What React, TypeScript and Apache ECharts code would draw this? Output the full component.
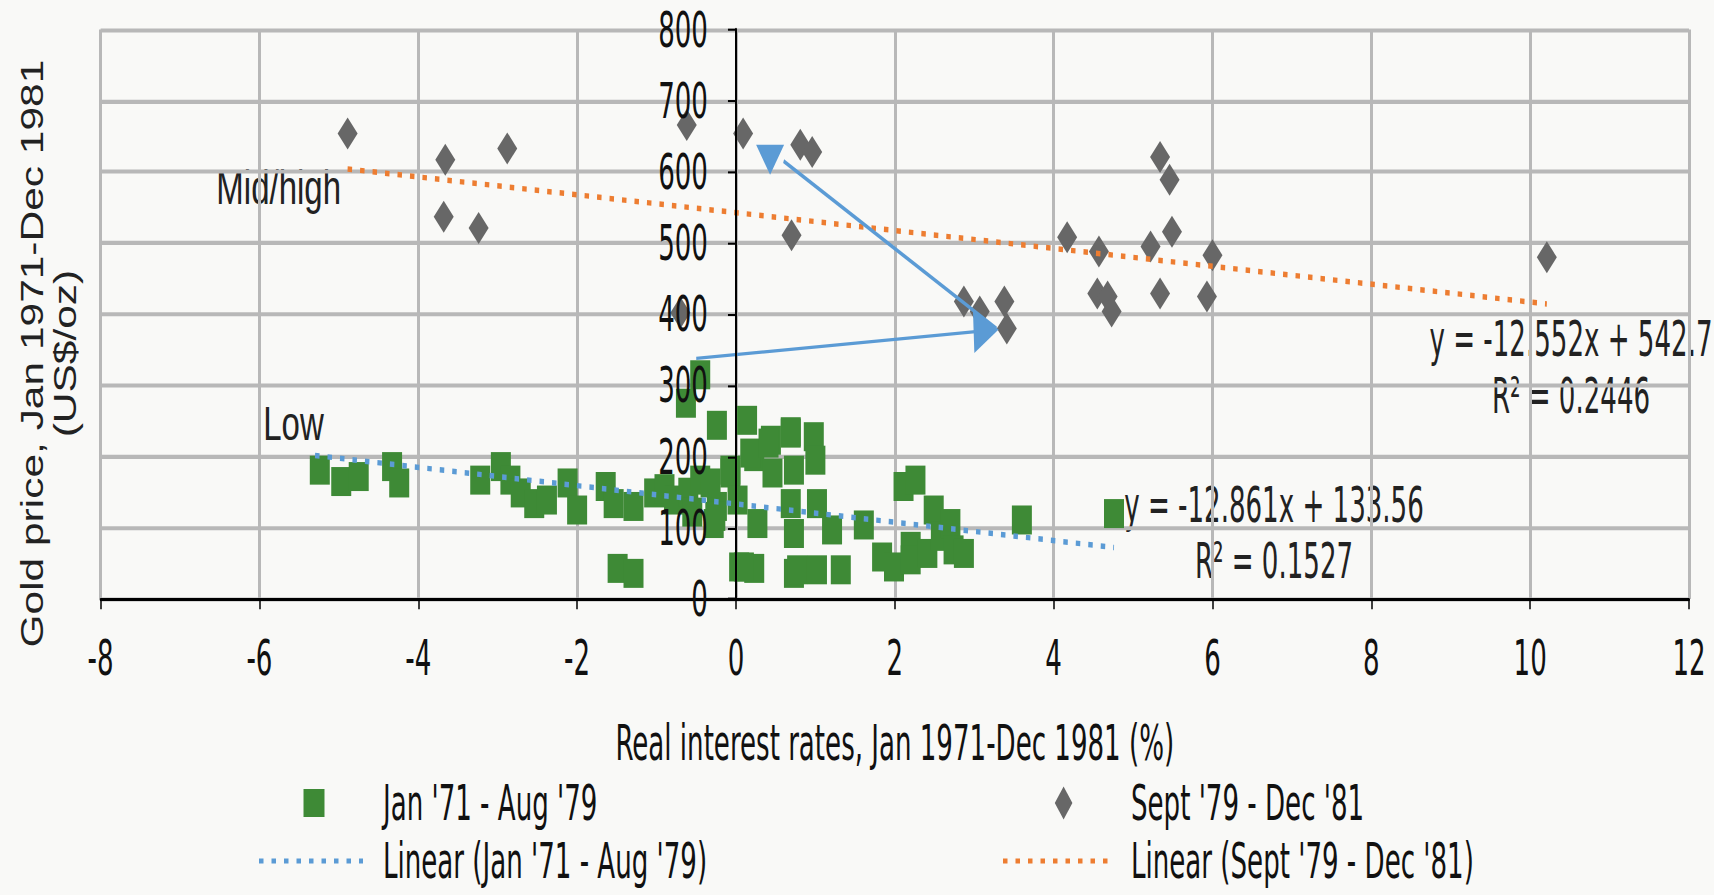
import React, { useEffect, useRef } from "react";
import * as echarts from "echarts";

// ---------- data ----------
const xMin = -8;
const xMax = 12;
const xStep = 2;
const yMin = 0;
const yMax = 800;
const yStep = 100;

const xTitle = "Real interest rates, Jan 1971-Dec 1981 (%)";
const yTitle = "Gold price, Jan 1971-Dec 1981\n(US$/oz)";

const earlyName = "Jan '71 - Aug '79";
const lateName = "Sept '79 - Dec '81";
const earlyTrendName = "Linear (Jan '71 - Aug '79)";
const lateTrendName = "Linear (Sept '79 - Dec '81)";

const regimeLabels = ["Mid/high", "Low"];

// Jan '71 - Aug '79 : [real rate %, gold price]
const earlyPoints: [number, number][] = [
  [-5.24, 181], [-4.97, 165], [-4.75, 172], [-4.33, 186], [-4.24, 163],
  [-3.22, 167], [-2.96, 186], [-2.84, 167], [-2.71, 149], [-2.54, 134], [-2.38, 139],
  [-2.12, 163], [-2.0, 125], [-1.64, 158], [-1.54, 134], [-1.29, 130], [-1.03, 149],
  [-0.9, 155], [-0.78, 139], [-0.6, 150], [-0.55, 122], [-1.49, 43], [-1.29, 36],
  [-0.63, 275], [-0.45, 315], [-0.24, 244], [0.14, 251], [-0.45, 167], [-0.24, 130],
  [-0.28, 106], [-0.07, 181], [0.23, 200], [0.44, 223], [0.69, 233], [0.27, 106],
  [0.04, 45], [0.23, 43], [0.73, 92], [0.73, 36], [-0.32, 163], [-0.26, 116],
  [-0.07, 177], [0.02, 139], [0.18, 205], [0.41, 219], [0.46, 177], [0.69, 235],
  [0.73, 181], [0.69, 134], [0.98, 228], [1.0, 195], [1.02, 134], [1.21, 97],
  [0.1, 45], [0.77, 41], [1.02, 41], [1.32, 41], [1.61, 104], [1.84, 59], [1.99, 45],
  [2.11, 158], [2.26, 167], [2.2, 74], [2.2, 55], [2.41, 64], [2.49, 125], [2.58, 88],
  [2.7, 106], [2.74, 69], [2.87, 64], [3.6, 111], [4.76, 120],
];

// Sept '79 - Dec '81
const latePoints: [number, number][] = [
  [-4.89, 654], [-3.66, 617], [-2.88, 633], [-3.68, 537], [-3.24, 521],
  [-0.62, 666], [0.09, 654], [0.81, 638], [0.96, 628], [0.7, 511], [-0.7, 402],
  [2.87, 418], [3.07, 404], [3.38, 418], [3.41, 380], [4.17, 508], [4.57, 488],
  [4.55, 429], [4.68, 425], [4.73, 404], [5.22, 495], [5.49, 516], [5.34, 621],
  [5.46, 589], [5.34, 429], [6.0, 483], [5.93, 425], [10.21, 480],
];

// trendline end points (as drawn)
const earlyTrend: [number, number][] = [[-5.3, 201.7], [4.76, 72.3]];
const lateTrend: [number, number][] = [[-4.89, 604.1], [10.21, 414.5]];
const earlyEquation = "y = -12.861x + 133.56\nR² = 0.1527";
const lateEquation = "y = -12.552x + 542.7\nR² = 0.2446";

// annotation arrows
const arrowUpLine: [number, number][] = [[3.28, 380], [0.6, 615]];
const arrowUpHead: [number, number][] = [[0.43, 617]];
const arrowRight: [number, number][] = [[-0.5, 338], [3.15, 377]];

// ---------- layout / styling ----------
const W = 1714;
const H = 527;
const S = 895 / H; // the reference picture is stretched vertically by this factor
const vy = (y: number) => y / S; // picture y -> chart y

const GREEN = "#3E8A36";
const GREY = "#676767";
const BLUE = "#5B9BD5";
const ORANGE = "#ED7D31";
const GRIDC = "#b8b8b8";
const narrow = "'Liberation Sans Narrow', 'Arial Narrow', 'DejaVu Sans Condensed', sans-serif";
const regular = "'Liberation Sans', Arial, sans-serif";
const FS = 29;
const KEEP = 1.45 / S; // vertical compensation for the plain-font labels
const TITLE_STRETCH = 1.37 / S;

const gridLeft = 100.6;
const gridRight = 25;
const gridBox = { left: gridLeft, right: gridRight, top: vy(29.5), bottom: H - vy(599), outerBoundsMode: "none" };
const plotWidth = W - gridLeft - gridRight;
const yAxisOffset = -((0 - xMin) / (xMax - xMin)) * plotWidth;

function buildOption() {
  const legendRow1 = vy(803);
  const legendRow2 = vy(861);
  const legendText = (text: string, x: number, y: number) => ({
    type: "text",
    x,
    y,
    style: { text, fill: "#111", font: `${FS}px ${narrow}`, align: "left", verticalAlign: "middle", lineHeight: FS },
  });
  const legendDots = (x1: number, x2: number, y: number, color: string) => ({
    type: "line",
    shape: { x1, y1: y, x2, y2: y },
    style: { stroke: color, lineWidth: 3, lineDash: [4.5, 8] },
  });

  return {
    animation: false,
    backgroundColor: "#f9f9f7",
    grid: [gridBox, gridBox],
    xAxis: [
      {
        gridIndex: 0, type: "value", min: xMin, max: xMax, interval: xStep,
        axisLine: { show: false }, axisTick: { show: false }, axisLabel: { show: false },
        splitLine: { show: true, lineStyle: { color: GRIDC, width: 3 } },
      },
      {
        gridIndex: 1, type: "value", min: xMin, max: xMax, interval: xStep, z: 10,
        axisLine: { show: true, onZero: false, lineStyle: { color: "#000", width: 1.8 } },
        axisTick: { show: true, length: 6, lineStyle: { color: "#000", width: 1.5 } },
        axisLabel: { margin: 20, fontSize: FS, fontFamily: narrow, color: "#111" },
        splitLine: { show: false },
        name: xTitle, nameLocation: "middle", nameGap: vy(144),
        nameTextStyle: { fontSize: FS, fontFamily: narrow, color: "#111", verticalAlign: "middle" },
      },
    ],
    yAxis: [
      {
        gridIndex: 0, type: "value", min: yMin, max: yMax, interval: yStep,
        axisLine: { show: false }, axisTick: { show: false }, axisLabel: { show: false },
        splitLine: { show: true, lineStyle: { color: GRIDC, width: 2.4 } },
      },
      {
        gridIndex: 1, type: "value", min: yMin, max: yMax, interval: yStep, z: 10,
        position: "left", offset: yAxisOffset,
        axisLine: { show: true, onZero: false, lineStyle: { color: "#000", width: 2 } },
        axisTick: { show: true, length: 8, lineStyle: { color: "#000", width: 1.2 } },
        axisLabel: { margin: 28, fontSize: FS, fontFamily: narrow, color: "#111" },
        splitLine: { show: false },
      },
    ],
    series: [
      {
        name: earlyName, type: "scatter", xAxisIndex: 0, yAxisIndex: 0,
        symbol: "rect", symbolSize: [20, vy(29)],
        itemStyle: { color: GREEN, opacity: 1 },
        data: earlyPoints,
      },
      {
        name: lateName, type: "scatter", xAxisIndex: 0, yAxisIndex: 0,
        symbol: "diamond", symbolSize: [20, vy(32)],
        itemStyle: { color: GREY, opacity: 1 },
        data: latePoints,
      },
      {
        name: earlyTrendName, type: "line", xAxisIndex: 0, yAxisIndex: 0,
        showSymbol: false, symbol: "none",
        lineStyle: { color: BLUE, width: 3.2, type: [4.5, 8], cap: "butt" },
        data: earlyTrend,
      },
      {
        name: lateTrendName, type: "line", xAxisIndex: 0, yAxisIndex: 0,
        showSymbol: false, symbol: "none",
        lineStyle: { color: ORANGE, width: 3.2, type: [4.5, 8], cap: "butt" },
        data: lateTrend,
      },
      {
        type: "lines", coordinateSystem: "cartesian2d", xAxisIndex: 0, yAxisIndex: 0, z: 5,
        symbol: ["none", "none"],
        lineStyle: { color: BLUE, width: 2.4, opacity: 1, curveness: 0 },
        data: [{ coords: arrowUpLine }],
      },
      {
        type: "lines", coordinateSystem: "cartesian2d", xAxisIndex: 0, yAxisIndex: 0, z: 5,
        symbol: ["none", "triangle"], symbolSize: [21, 25],
        lineStyle: { color: BLUE, width: 2, opacity: 1, curveness: 0 },
        data: [{ coords: arrowRight }],
      },
      {
        type: "scatter", xAxisIndex: 0, yAxisIndex: 0, z: 5,
        symbol: "triangle", symbolSize: [28, vy(30)], symbolRotate: 180,
        itemStyle: { color: BLUE, opacity: 1 },
        data: arrowUpHead,
      },
    ],
    graphic: [
      {
        type: "text", x: 49, y: vy(353.6), rotation: Math.PI / 2, scaleX: TITLE_STRETCH,
        style: {
          text: yTitle, fill: "#222", font: `31px ${regular}`,
          align: "center", verticalAlign: "middle", lineHeight: 33,
        },
      },
      {
        type: "text", x: 278.7, y: vy(188), scaleY: KEEP,
        style: { text: regimeLabels[0], fill: "#222", font: `33px ${regular}`, align: "center", verticalAlign: "middle" },
      },
      {
        type: "text", x: 293.5, y: vy(424), scaleY: KEEP,
        style: { text: regimeLabels[1], fill: "#222", font: `33px ${regular}`, align: "center", verticalAlign: "middle" },
      },
      {
        type: "text", x: 1571, y: vy(367),
        style: { text: lateEquation, fill: "#222", font: `${FS}px ${narrow}`, align: "center", verticalAlign: "middle", lineHeight: vy(57) },
      },
      {
        type: "text", x: 1274, y: vy(533),
        style: { text: earlyEquation, fill: "#222", font: `${FS}px ${narrow}`, align: "center", verticalAlign: "middle", lineHeight: vy(56) },
      },
      // legend
      {
        type: "rect",
        shape: { x: 314 - 10.5, y: legendRow1 - vy(14), width: 21, height: vy(28) },
        style: { fill: GREEN },
      },
      legendText(earlyName, 383, legendRow1),
      {
        type: "polygon",
        shape: {
          points: [
            [1063.6, legendRow1 - vy(16.5)], [1072.4, legendRow1], [1063.6, legendRow1 + vy(16.5)], [1054.8, legendRow1],
          ],
        },
        style: { fill: GREY },
      },
      legendText(lateName, 1131, legendRow1),
      legendDots(259, 363, legendRow2, BLUE),
      legendText(earlyTrendName, 383, legendRow2),
      legendDots(1003, 1113, legendRow2, ORANGE),
      legendText(lateTrendName, 1131, legendRow2),
    ],
  };
}

export default function App() {
  const ref = useRef<HTMLDivElement>(null);
  useEffect(() => {
    if (!ref.current) return;
    const chart = echarts.init(ref.current, null, { renderer: "svg" });
    chart.setOption(buildOption() as any);
    return () => chart.dispose();
  }, []);
  return (
    <div
      ref={ref}
      style={{
        position: "absolute",
        left: 0,
        top: 0,
        width: W,
        height: H,
        transform: `scaleY(${S})`,
        transformOrigin: "0 0",
      }}
    />
  );
}
